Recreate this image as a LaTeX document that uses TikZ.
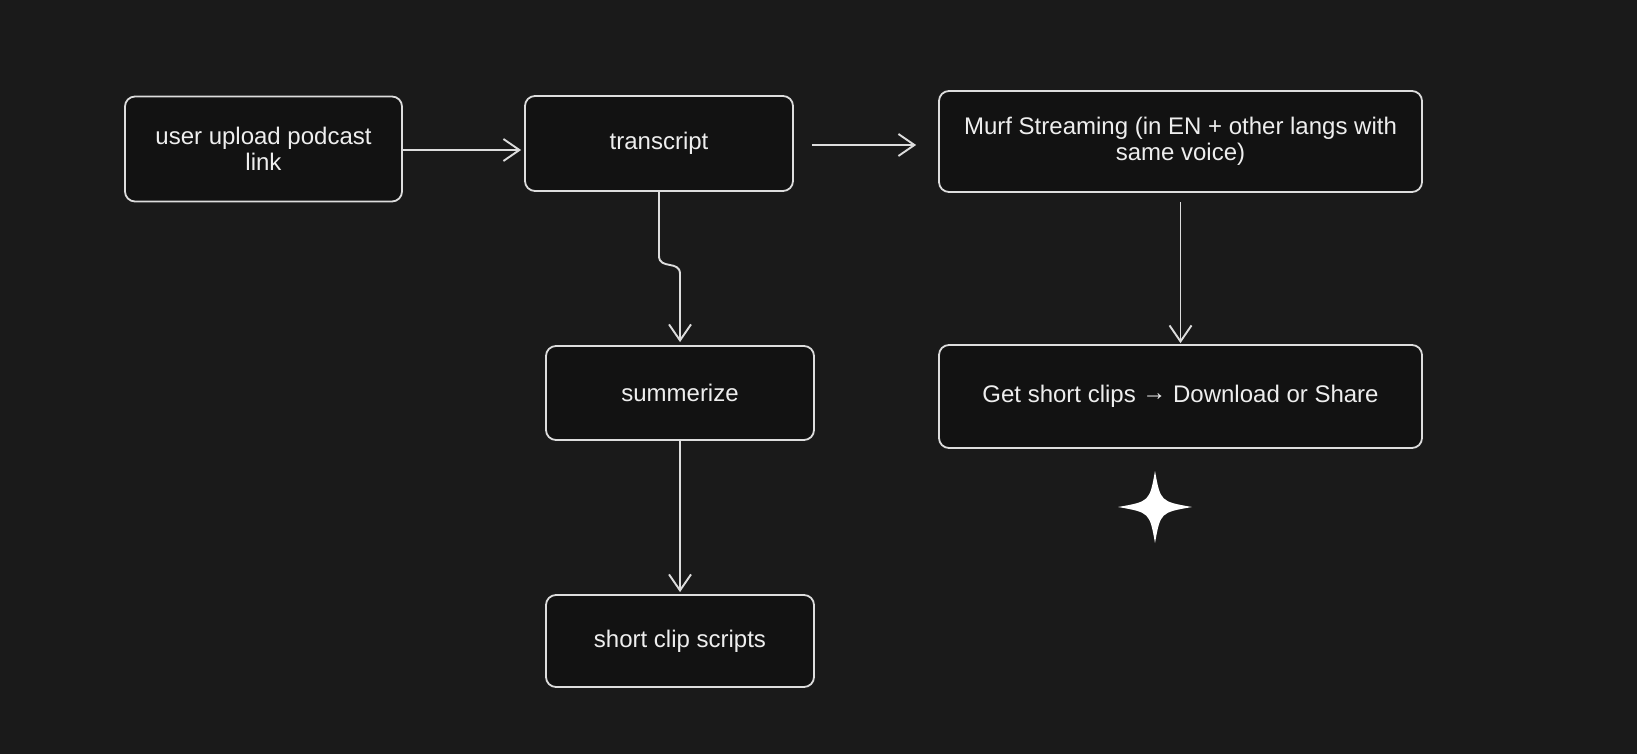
\documentclass[tikz,border=0pt]{standalone}
\usepackage{fontspec}
\setmainfont{Liberation Sans}
\usetikzlibrary{arrows.meta,calc}
\definecolor{bg}{HTML}{1A1A1A}
\definecolor{boxfill}{HTML}{121212}
\definecolor{stroke}{HTML}{DDDDDD}
\definecolor{txt}{HTML}{EEEEEE}
\begin{document}
\begin{tikzpicture}[x=1pt,y=-1pt,
  box/.style={draw=stroke, fill=boxfill, line width=1.8pt, rounded corners=10pt,
    inner sep=0pt, text=txt, font=\fontsize{24}{26.5}\selectfont, align=center},
  conn/.style={draw=stroke, line width=1.9pt,
    -{Straight Barb[length=16pt,width=22pt,line width=1.9pt]}}]
\fill[bg] (0,0) rectangle (1637,754);
\useasboundingbox (0,0) rectangle (1637,754);

\node[box, minimum width=277pt, minimum height=105pt] (upload) at (263.5,149) {user upload podcast\\link};
\node[box, minimum width=268pt, minimum height=95pt] (trans) at (659,143.5) {transcript};
\node[box, minimum width=483pt, minimum height=101pt] (murf) at (1180.5,141.5) {Murf Streaming (in EN + other langs with\\same voice)};
\node[box, minimum width=268pt, minimum height=94pt] (summ) at (680,393) {summerize};
\node[box, minimum width=268pt, minimum height=92pt] (short) at (680,641) {short clip scripts};
\node[box, minimum width=483pt, minimum height=103pt] (get) at (1180.5,396.5) {Get short clips \raisebox{2.5pt}{→} Download or Share};

% connectors
\coordinate (a1) at ($(upload.east)+(0,1)$);
\draw[conn] (a1) -- ($(a1 -| trans.west)+(-3,0)$);
\coordinate (a2) at ($(trans.east)+(18,1.5)$);
\draw[conn] (a2) -- ($(a2 -| murf.west)+(-22,0)$);
\coordinate (j1) at ($(trans.south)+(0,64)$);
\coordinate (j2) at ($(j1 -| summ.north)+(0,18)$);
\draw[conn] (trans.south) -- (j1) .. controls +(0,14) and +(0,-14) .. (j2) -- ($(summ.north)+(0,-3)$);
\draw[conn] (summ.south) -- ($(short.north)+(0,-2)$);
\draw[conn] ($(murf.south)+(0,9)$) -- ($(get.north)+(0,-1)$);

% sparkle
\fill[white] (1155,471) .. controls (1160.5,501.5) .. (1192,507)
  .. controls (1160.5,512.5) .. (1155,543)
  .. controls (1149.5,512.5) .. (1118,507)
  .. controls (1149.5,501.5) .. cycle;
\end{tikzpicture}
\end{document}
